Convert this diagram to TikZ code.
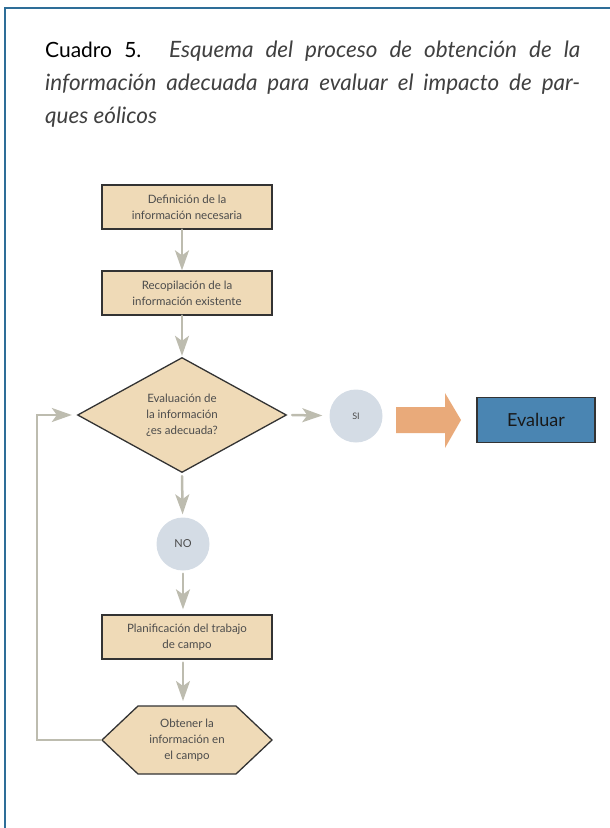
\documentclass[tikz,border=0pt]{standalone}
\usepackage{fontspec}
\setmainfont{Lato}
\usetikzlibrary{arrows.meta,shapes.geometric,calc}
\usepackage{xcolor}

\definecolor{marco}{HTML}{2E6E98}
\definecolor{trigo}{HTML}{EFDAB7}
\definecolor{nube}{HTML}{D4DCE5}
\definecolor{gris}{HTML}{BDBCAF}
\definecolor{naranja}{HTML}{E9AA7A}
\definecolor{azul}{HTML}{4A85B2}

\begin{document}
\begin{tikzpicture}[x=1pt,y=-1pt,>={Stealth[length=20pt,width=14pt,inset=5pt]},line cap=round,
  borde/.style={draw=black!80,line width=1.3pt,fill=trigo},
  paso/.style={borde,minimum width=170pt,minimum height=44pt,inner sep=0pt,align=center,
    font=\fontsize{11.5}{16}\selectfont,text=black!70},
  decision/.style={borde,diamond,minimum width=209pt,minimum height=115pt,inner sep=0pt,
    align=center,font=\fontsize{11.5}{16}\selectfont,text=black!70},
  circulo/.style={circle,fill=nube,minimum size=53pt,inner sep=0pt,text=black!70},
  flecha/.style={->,draw=gris,line width=2.5pt}]
\useasboundingbox (0,0) rectangle (610,828);
\draw[marco,line width=1.6pt,line cap=butt] (610,8) -- (5,8) -- (5,828);
% titulo
\node[anchor=north west,inner sep=0pt,text width=535pt,align=justify,
  font=\fontsize{21}{33}\selectfont,text=black!75] (titulo) at (45,41)
  {\textcolor{black}{Cuadro 5.} {\fontsize{22.5}{33}\selectfont\itshape Esquema del proceso de obtención de la\linebreak
   información adecuada para evaluar el impacto de par-\linebreak ques eólicos}};
% diagrama
\node[paso] (def) at (187,207) {Definición de la\\información necesaria};
\node[paso] (rec) at (187,293) {Recopilación de la\\información existente};
\node[decision] (eval) at (182,415) {Evaluación de\\la información\\¿es adecuada?};
\node[circulo,font=\fontsize{9}{11}\selectfont] (si) at (356,416) {SI};
\fill[naranja] (396,407) -- (445,407) -- (445,393) -- (461,420) -- (445,448) -- (445,433) -- (396,433) -- cycle;
\node[draw=black!80,line width=1.3pt,fill=azul,minimum width=118pt,minimum height=45pt,
  font=\fontsize{18}{20}\selectfont,text=black!90] (evaluar) at (536,420) {Evaluar};
\node[circulo,font=\fontsize{11}{13}\selectfont] (no) at (183,544) {NO};
\node[paso] (plan) at (187,637) {Planificación del trabajo\\de campo};
\coordinate (obt) at (187,740);
\draw[borde] ($(obt)+(-85,0)$) -- ++(36,-34) -- ++(98,0) -- ++(36,34) -- ++(-36,34) -- ++(-98,0) -- cycle;
\node[align=center,font=\fontsize{11.5}{16}\selectfont,text=black!70] at (obt) {Obtener la\\información en\\el campo};
\coordinate (obtN) at ($(obt)+(-4,-34)$);
\coordinate (obtW) at ($(obt)+(-85,0)$);
\coordinate (lazo) at (37,415);
% conectores
\draw[flecha] (def.south -| eval.center) -- (rec.north -| eval.center);
\draw[flecha,shorten >=1pt] (rec.south -| eval.center) -- (eval.north);
\draw[flecha,shorten <=5pt,shorten >=7pt] (eval.east) -- (si);
\draw[flecha,shorten <=3pt,shorten >=3pt] (eval.south) -- (no);
\draw[flecha,shorten <=3pt,shorten >=5pt] (no) -- (plan.north -| no);
\draw[flecha,shorten <=3pt,shorten >=5pt] (plan.south -| no) -- (obtN);
\draw[flecha,line cap=butt,shorten >=5pt] (obtW) -| (lazo) -- (eval.west);
\end{tikzpicture}
\end{document}
